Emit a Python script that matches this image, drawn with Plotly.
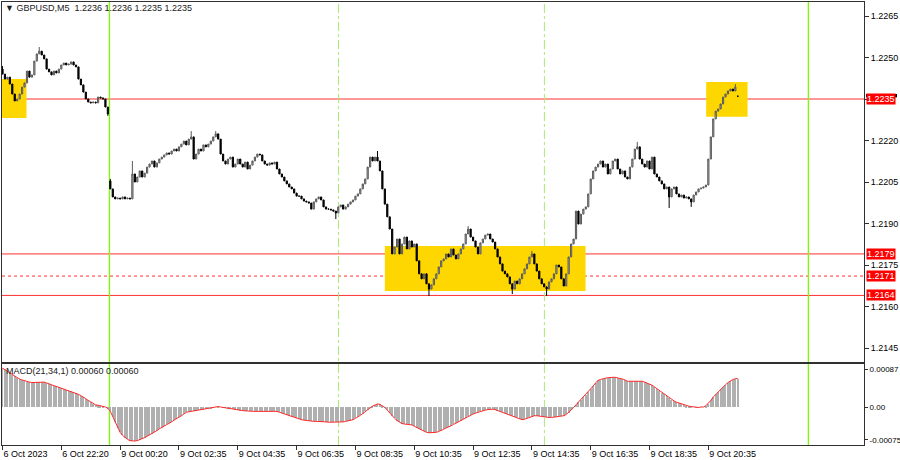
import plotly.graph_objects as go

# ---------------- data (prices stored as pips above 1.2100) ----------------
close_pips = [
    144.0, 142.2, 142.9, 140.4, 136.8, 134.3, 135.0, 136.8, 139.3, 140.8,
    145.1, 142.9, 143.7, 148.7, 151.3, 152.3, 150.9, 149.5, 145.8, 144.8,
    143.7, 145.1, 144.4, 145.8, 147.3, 148.0, 147.3, 147.6, 148.4, 147.3,
    146.6, 142.2, 140.1, 137.5, 135.0, 133.9, 133.6, 133.9, 133.6, 135.7,
    135.4, 135.0, 132.1, 129.6,
    102.5, 99.6, 98.9, 99.2, 98.9, 99.6,
    98.9, 99.2, 98.9, 107.9, 105.0, 106.8, 109.0, 106.8, 108.2, 110.4,
    111.5, 112.6, 110.4, 111.9, 113.3, 114.0, 114.8, 115.5, 115.1, 116.2,
    116.9, 116.2, 117.7, 118.7, 119.8, 118.4, 120.5, 121.3, 113.3, 115.1,
    116.9, 116.2, 118.4, 117.7, 118.7, 119.8, 121.3, 122.4, 120.5, 115.1,
    112.6, 111.5, 113.3, 114.0, 110.4, 111.5, 113.3, 111.5, 110.4, 112.2,
    109.7, 111.1, 112.6, 114.0, 115.1, 114.8, 112.6, 111.5, 111.1, 111.9,
    111.5, 112.2, 109.7, 107.9, 106.8, 105.4, 104.3, 103.2, 102.5, 101.0,
    99.9, 99.9, 98.9, 98.1, 97.8, 97.4, 95.2, 97.8, 98.9, 99.6,
    98.5, 96.0, 95.2, 95.2, 94.9, 94.5, 93.8, 96.0, 96.7, 95.2,
    96.0, 97.0, 97.8, 98.5, 99.9, 100.7, 102.5, 104.3, 106.1, 110.4,
    114.0, 112.6, 114.0, 112.6, 109.0, 102.5, 97.0, 92.4, 88.0, 79.0,
    81.5, 84.4, 79.0, 82.6, 85.1, 80.8, 83.7, 81.5, 82.6, 76.5,
    71.8, 70.0, 71.8, 68.2, 66.3, 67.8,
    70.0, 71.8, 74.3, 76.5, 77.2, 79.0, 77.9, 80.8, 78.6, 77.2,
    79.0, 80.8, 82.6, 86.2, 88.0, 85.1, 83.7, 81.5, 79.0, 83.0,
    84.4, 85.8, 86.2, 84.4, 83.3, 80.8, 77.9, 75.4, 72.8, 71.8,
    70.7, 68.2, 66.3, 69.2, 68.2, 70.0, 71.8, 73.6, 75.4, 77.9,
    79.0, 75.4, 72.8, 70.0, 68.2, 67.1, 66.3, 68.9, 70.0, 71.8,
    75.0, 74.3, 70.0, 67.4, 71.8, 77.9, 82.6, 84.4, 94.5, 89.8,
    93.4, 95.2, 96.0, 100.7, 106.1, 109.0, 110.4, 111.5, 112.6, 110.4,
    111.5, 107.9, 109.7, 112.6, 113.3, 109.7, 107.9, 109.0, 106.8, 106.1,
    110.4, 113.3, 116.9, 117.7, 113.3, 111.5, 110.4, 112.6, 109.7, 114.0,
    107.9, 106.8, 105.4, 104.3, 102.5, 103.2, 99.6, 102.5, 103.2, 100.7,
    99.6, 100.3, 99.2, 99.6, 98.9, 97.8, 100.3, 101.4, 102.5, 102.8,
    103.2, 103.9, 113.3, 121.3, 127.8, 130.6, 131.4, 133.2, 135.7, 136.8,
    137.9, 138.6, 137.9, 139.3, 136.0, 135.0,
]
open_overrides = {0: 145.8, 44: 105.4, 300: 136.0}
high_wicks = {0: 146.9, 15: 153.8, 44: 106.1, 53: 112.6, 77: 123.4, 87: 123.4,
              153: 116.2, 190: 89.1, 216: 80.1, 259: 119.5, 299: 140.4, 300: 136.0}
low_wicks = {43: 128.9, 136: 91.6, 174: 63.8, 208: 64.5, 222: 63.8, 272: 95.6, 281: 96.0}

# MACD(21,34,1) main value per bar, in units of 1e-5
macd_e5 = [
    89, 86, 82, 78, 74,
    70, 67, 64, 62, 60, 58, 57,
    56, 56, 57, 57, 57, 57,
    55, 53, 51, 49, 47, 45, 43,
    41, 39, 37, 36, 34,
    32, 29, 26, 23,
    19, 15, 11, 7,
    5, 4, 3, 2, 0, -3,
    -10, -22, -35, -47, -58,
    -65, -70, -74, -77, -78,
    -78, -77, -75, -73, -70, -67,
    -64, -61, -57, -54, -50, -47, -44, -40,
    -37, -34, -30, -27, -23, -20, -16, -12,
    -11, -10, -9, -8, -7, -7,
    -6, -5, -4, -3, -1, 0, 1,
    0, -1, -2, -3, -4, -5,
    -6, -7, -8, -8, -9, -9, -10, -10,
    -10, -10, -10, -10, -10, -10, -10, -10, -10, -10,
    -12, -14, -16, -18, -20, -22, -24, -26, -28,
    -29, -30, -31, -32, -32, -33, -33, -33,
    -34, -34, -34, -35, -35, -35, -35,
    -35, -34, -34, -33, -32, -31, -29,
    -26, -23, -19, -15, -10,
    -6, -2, 2, 5, 7,
    6, 3, -1, -7,
    -14, -20, -26, -31, -35, -38,
    -39, -40, -40, -41,
    -44, -47, -50, -53, -56, -58, -59, -59,
    -59, -58, -56, -54, -51, -48, -46, -43,
    -40, -37, -34, -31, -28, -25, -21, -18,
    -16, -14, -12, -10, -8, -7, -6, -5, -5,
    -6, -8, -10, -12, -14,
    -16, -18, -20, -22, -24, -27, -29,
    -28, -26, -24, -22, -20,
    -20, -21, -21, -22, -23, -24, -24,
    -23, -22, -21, -21, -20,
    -17, -13, -7, -1, 5, 12,
    17, 22, 28, 34,
    41, 48, 55, 61,
    63, 65, 66, 67, 68, 68, 68,
    67, 66, 64, 62, 59,
    59, 59, 59, 59, 59, 59,
    57, 55, 53, 50,
    46, 42, 37, 33, 29, 25, 20,
    17, 14, 11, 9, 7, 5,
    3, 2, 1, 0, -1, -1, 0, 0,
    3, 8, 15, 23,
    29, 35, 41, 46,
    51, 56, 60, 63, 65, 65,
]

tick_bars = [0, 24, 48, 72, 96, 120, 144, 168, 192, 216, 240, 264, 288]
tick_labels = ["6 Oct 2023", "6 Oct 22:20", "9 Oct 00:20", "9 Oct 02:35", "9 Oct 04:35",
               "9 Oct 06:35", "9 Oct 08:35", "9 Oct 10:35", "9 Oct 12:35", "9 Oct 14:35",
               "9 Oct 16:35", "9 Oct 18:35", "9 Oct 20:35"]
price_ticks = [1.2145, 1.2160, 1.2175, 1.2190, 1.2205, 1.2220, 1.2235, 1.2250, 1.2265]
levels_solid = [1.2235, 1.2179, 1.2164]
level_dotted = 1.2171
label_levels = [1.2235, 1.2179, 1.2171, 1.2164]
zones = [  # (bar start, bar end, price low, price high)
    (-1.0, 9.8, 1.22281, 1.22422),
    (156.0, 237.9, 1.21656, 1.21819),
    (287.1, 304.0, 1.22286, 1.22411),
]
day_separators = [43.65, 328.8]
session_lines = [137.1, 221.1]

# ---------------- build ----------------
BASE = 1.21
n = min(len(close_pips), len(macd_e5))
idx = list(range(n))
close = [BASE + p / 1e4 for p in close_pips[:n]]
opens = []
for i in range(n):
    if i in open_overrides:
        opens.append(BASE + open_overrides[i] / 1e4)
    else:
        opens.append(close[i - 1])
high = []
low = []
for i in range(n):
    h = max(opens[i], close[i])
    l = min(opens[i], close[i])
    if i in high_wicks:
        h = max(h, BASE + high_wicks[i] / 1e4)
    if i in low_wicks:
        l = min(l, BASE + low_wicks[i] / 1e4)
    high.append(h)
    low.append(l)
macd = [v / 1e5 for v in macd_e5[:n]]

W, H = 900, 460
FONT = "Liberation Sans"
xdom = [2 / W, 864 / W]
ydom_main = [1 - 362 / H, 1 - 2 / H]
ydom_macd = [1 - 445 / H, 1 - 364 / H]
xrange_ = [-0.2, 351.5]

fig = go.Figure()
fig.add_trace(go.Candlestick(
    x=idx, open=opens, high=high, low=low, close=close,
    xaxis="x", yaxis="y",
    increasing=dict(line=dict(color="#5a5a5a", width=1), fillcolor="#b8b8b8"),
    decreasing=dict(line=dict(color="#000000", width=1), fillcolor="#000000"),
    whiskerwidth=0, hoverinfo="skip", showlegend=False,
))
fig.add_trace(go.Bar(
    x=idx, y=macd, xaxis="x2", yaxis="y2", width=0.5,
    marker=dict(color="#b0b0b0", line=dict(width=0)),
    hoverinfo="skip", showlegend=False,
))
fig.add_trace(go.Scatter(
    x=idx, y=macd, xaxis="x2", yaxis="y2", mode="lines",
    line=dict(color="#ff2a2a", width=1), hoverinfo="skip", showlegend=False,
))

shapes = []
for x0, x1, p0, p1 in zones:
    shapes.append(dict(type="rect", xref="x", yref="y", x0=x0, x1=x1, y0=p0, y1=p1,
                       fillcolor="#FFD700", line=dict(width=0), layer="below"))
for lv in levels_solid:
    shapes.append(dict(type="line", xref="paper", yref="y", x0=xdom[0], x1=xdom[1],
                       y0=lv, y1=lv, line=dict(color="#ff3030", width=1), layer="below"))
shapes.append(dict(type="line", xref="paper", yref="y", x0=xdom[0], x1=xdom[1],
                   y0=level_dotted, y1=level_dotted,
                   line=dict(color="#ff3030", width=1, dash="dot"), layer="below"))
for xv in day_separators:
    shapes.append(dict(type="line", xref="x", yref="paper", x0=xv, x1=xv,
                       y0=ydom_macd[0], y1=ydom_main[1],
                       line=dict(color="#7cfc00", width=1.3), layer="below"))
for xv in session_lines:
    shapes.append(dict(type="line", xref="x", yref="paper", x0=xv, x1=xv,
                       y0=ydom_macd[0], y1=ydom_main[1],
                       line=dict(color="#a8ec70", width=1, dash="dashdot"), layer="below"))
# black current-price marker behind the 1.2235 label
shapes.append(dict(type="rect", xref="paper", yref="y", x0=866 / W, x1=897 / W,
                   y0=1.22356, y1=1.22368, fillcolor="#000000", line=dict(width=0)))

annotations = []
for lv in label_levels:
    annotations.append(dict(xref="paper", yref="y", x=866 / W, y=lv, xanchor="left",
                            yanchor="middle", text=f"{lv:.4f}", showarrow=False,
                            font=dict(family=FONT, size=9, color="#ffffff"),
                            bgcolor="#ff0000", borderpad=0))
annotations.append(dict(xref="paper", yref="paper", x=3 / W, y=1 - 8 / H, xanchor="left",
                        yanchor="middle", showarrow=False,
                        text="▼ GBPUSD,M5  1.2236 1.2236 1.2235 1.2235",
                        font=dict(family=FONT, size=9, color="#202020")))
annotations.append(dict(xref="paper", yref="paper", x=4 / W, y=1 - 371 / H, xanchor="left",
                        yanchor="middle", showarrow=False,
                        text="MACD(21,34,1) 0.00060 0.00060",
                        font=dict(family=FONT, size=9, color="#202020")))

axis_common = dict(showgrid=False, zeroline=False, showline=True, mirror=True,
                   linecolor="#303030", linewidth=1, automargin=False)

# the 1.2235 tick text is covered by its red level label in the reference
price_ticktext = ["" if abs(p - 1.2235) < 1e-9 else f"{p:.4f}" for p in price_ticks]

fig.update_layout(
    width=W, height=H, margin=dict(l=0, r=0, t=0, b=0, pad=0, autoexpand=False),
    paper_bgcolor="#ffffff", plot_bgcolor="#ffffff",
    showlegend=False, hovermode=False, bargap=0,
    font=dict(family=FONT, size=9, color="#000000"),
    xaxis=dict(domain=xdom, anchor="y", range=xrange_, showticklabels=False, ticks="",
               rangeslider=dict(visible=False), **axis_common),
    yaxis=dict(domain=ydom_main, anchor="x", side="right", range=[1.213994, 1.227006],
               tickvals=price_ticks, ticktext=price_ticktext,
               ticks="outside", ticklen=4, tickcolor="#303030",
               tickfont=dict(family=FONT, size=9, color="#000000"), **axis_common),
    xaxis2=dict(domain=xdom, anchor="y2", range=xrange_, tickvals=tick_bars,
                ticktext=tick_labels, ticks="outside", ticklen=4, tickcolor="#303030",
                ticklabelposition="outside right",
                tickfont=dict(family=FONT, size=9, color="#000000"), **axis_common),
    yaxis2=dict(domain=ydom_macd, anchor="x2", side="right", range=[-0.00087, 0.000985],
                tickvals=[0.00087, 0.0, -0.00075], ticktext=["0.00087", "0.00", "-0.00075"],
                ticks="outside", ticklen=3, tickcolor="#303030",
                tickfont=dict(family=FONT, size=8, color="#000000"), **axis_common),
    shapes=shapes, annotations=annotations,
)

fig.write_html("out.html", config={"displayModeBar": False},
               post_script="document.body.style.margin='0';document.body.style.overflow='hidden';")
